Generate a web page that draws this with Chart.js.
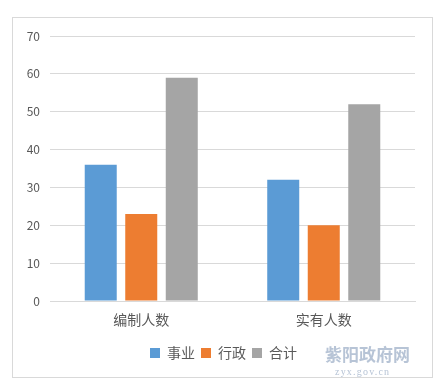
<!DOCTYPE html>
<html><head><meta charset="utf-8">
<script src="https://cdn.jsdelivr.net/npm/chart.js@4/dist/chart.umd.min.js"></script>
<style>
html,body{margin:0;padding:0;background:#fff;width:438px;height:389px;overflow:hidden;}
#wrap{position:relative;width:438px;height:389px;}
canvas{position:absolute;left:0;top:0;}
#wm1{position:absolute;left:325px;top:341px;font-family:"Noto Sans CJK SC";font-weight:bold;font-size:17px;color:#b7c4d6;letter-spacing:0px;white-space:nowrap;}
#wm2{position:absolute;left:335px;top:366px;font-family:"Liberation Serif";font-size:10px;color:#b7c4d6;letter-spacing:1.2px;white-space:nowrap;}
</style></head><body>
<div id="wrap"><canvas id="c" width="438" height="389"></canvas>
<div id="wm1">紫阳政府网</div><div id="wm2">zyx.gov.cn</div></div>
<script>
const categories = ["编制人数", "实有人数"];
const seriesNames = ["事业", "行政", "合计"];
const shiye = [36, 32];
const xingzheng = [23, 20];
const heji = [59, 52];
const yTicks = [0, 10, 20, 30, 40, 50, 60, 70];
const colors = ["#5B9BD5", "#ED7D31", "#A5A5A5"];
const FONT = '"Noto Sans CJK SC", "Liberation Sans", sans-serif';

const borderPlugin = {
  id: 'outerBorder',
  afterLayout(chart) {
    const lg = chart.legend;
    if (lg) { lg.left += 16; lg.right += 16; }
  },
  beforeDraw(chart) {
    const ctx = chart.ctx;
    ctx.save();
    ctx.fillStyle = '#fff';
    ctx.fillRect(0, 0, chart.width, chart.height);
    ctx.strokeStyle = '#d9d9d9';
    ctx.lineWidth = 1;
    ctx.strokeRect(12.5, 17.5, 420, 360);
    ctx.restore();
  }
};

new Chart(document.getElementById('c'), {
  type: 'bar',
  data: {
    labels: categories,
    datasets: [
      { label: seriesNames[0], data: shiye, backgroundColor: colors[0] },
      { label: seriesNames[1], data: xingzheng, backgroundColor: colors[1] },
      { label: seriesNames[2], data: heji, backgroundColor: colors[2] }
    ]
  },
  options: {
    responsive: false,
    animation: false,
    devicePixelRatio: 1,
    categoryPercentage: 0.666,
    barPercentage: 0.79,
    layout: { padding: { top: 36, left: 0, right: 23, bottom: 19 } },
    scales: {
      x: {
        grid: { display: false, drawTicks: false },
        border: { display: true, color: '#d9d9d9' },
        ticks: { color: '#595959', font: { family: FONT, size: 14 }, padding: 10 },
        afterFit(s) { s.height = 39; }
      },
      y: {
        min: 0, max: 70,
        afterBuildTicks(s) { s.ticks = yTicks.map(v => ({ value: v })); },
        grid: { color: '#d9d9d9', drawTicks: false },
        border: { display: false },
        ticks: { color: '#595959', font: { family: FONT, size: 12 }, padding: 10 },
        afterFit(s) { s.width = 50; }
      }
    },
    plugins: {
      legend: {
        position: 'bottom',
        labels: {
          boxWidth: 10, boxHeight: 10, padding: 6,
          color: '#595959', font: { family: FONT, size: 14 }
        }
      },
      tooltip: { enabled: false }
    }
  },
  plugins: [borderPlugin]
});
</script></body></html>
